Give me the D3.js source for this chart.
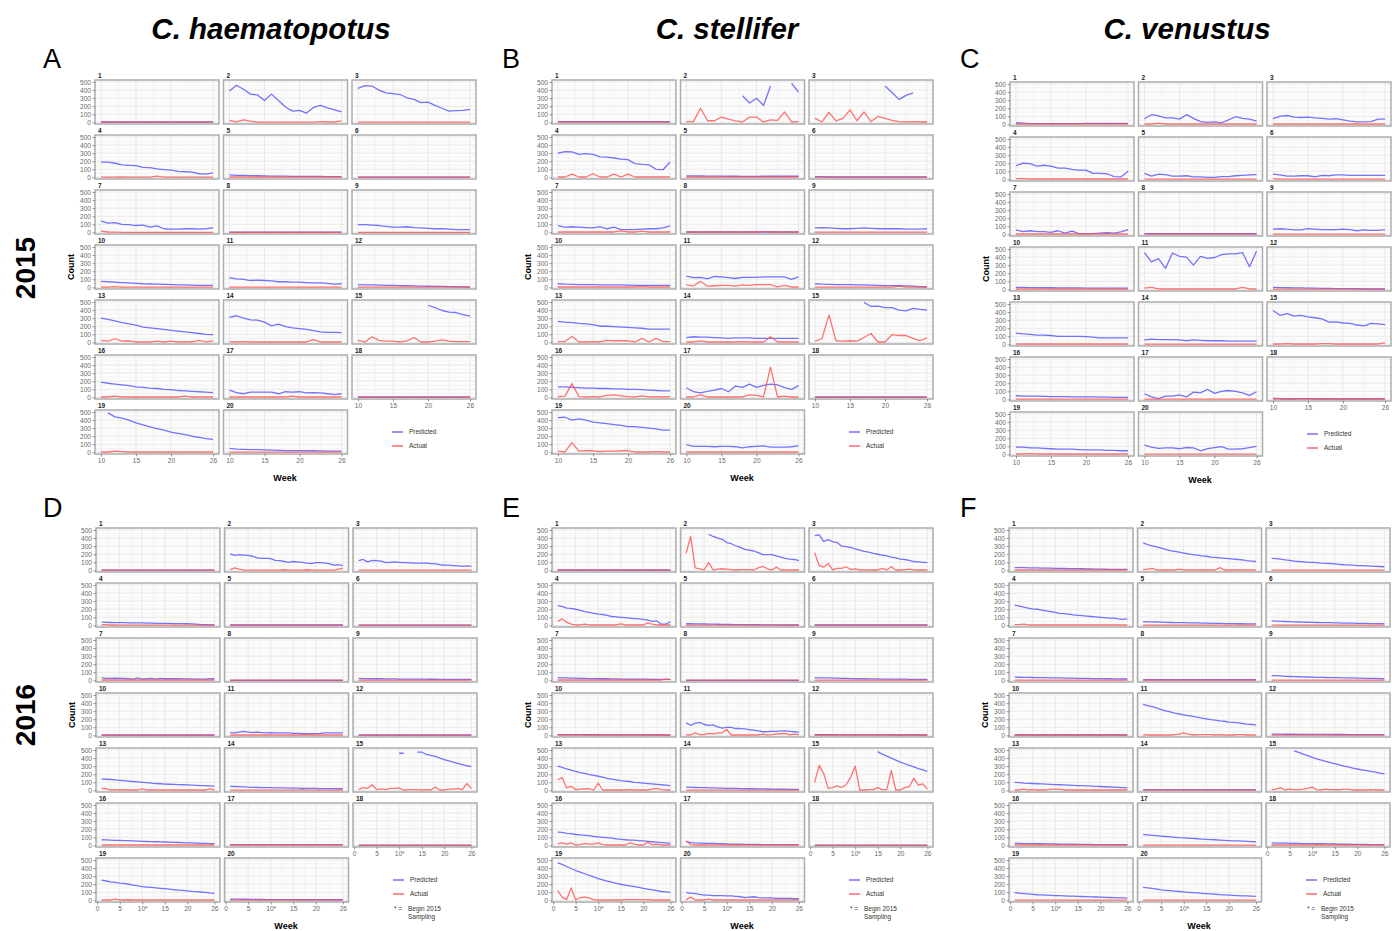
<!DOCTYPE html>
<html>
<head>
<meta charset="utf-8">
<script src="https://cdn.jsdelivr.net/npm/d3@7"></script>
<style>
  body { margin: 0; background: #fff; }
  text { font-family: "Liberation Sans", Arial, sans-serif; }
</style>
</head>
<body>
<div id="chart"></div>
<script>
// ---- labels ----
var speciesNames = ["C. haematopotus", "C. stellifer", "C. venustus"];
var yearLabels = ["2015", "2016"];
var panelLetters = ["A", "B", "C", "D", "E", "F"];
var seriesNames = ["Predicted", "Actual"];
var yTickValues = [0, 100, 200, 300, 400, 500];
var xTicks2015 = [10, 15, 20, 26];
var xTickLabels2015 = ["10", "15", "20", "26"];
var xTicks2016 = [0, 5, 10, 15, 20, 26];
var xTickLabels2016 = ["0", "5", "10*", "15", "20", "26"];

var weeks2015 = [10,11,12,13,14,15,16,17,18,19,20,21,22,23,24,25,26];
var weeks2016 = [1,2,3,4,5,6,7,8,9,10,11,12,13,14,15,16,17,18,19,20,21,22,23,24,25,26];

// ---- 2015, C. haematopotus (A) ----
var predA = [
  [5,5,5,5,5,5,5,5,5,5,5,5,5,5,5,5,5],
  [390,460,410,350,340,270,350,270,190,140,150,115,185,210,180,155,130],
  [420,455,450,400,365,355,345,305,285,245,250,210,175,140,145,150,160],
  [190,190,175,155,150,145,125,120,105,95,90,75,70,65,45,40,55],
  [30,25,25,22,20,18,15,15,15,12,12,12,12,12,10,10,10],
  [4,4,4,4,4,4,4,4,4,4,4,4,4,4,4,4,4],
  [140,115,120,100,95,85,90,65,80,45,40,40,45,45,40,45,55],
  [2,2,2,2,2,2,2,2,2,2,2,2,2,2,2,2,2],
  [95,95,90,85,75,65,65,70,60,55,50,45,45,40,35,35,35],
  [75,70,65,60,55,50,45,42,40,38,35,32,30,28,26,25,25],
  [120,105,100,85,90,85,80,70,70,65,65,60,55,55,50,40,45],
  [35,32,30,28,26,25,22,20,18,16,14,12,12,10,8,6,5],
  [300,285,265,245,230,215,190,180,170,160,150,140,130,120,110,100,95],
  [310,330,300,280,275,250,205,225,195,180,170,160,145,130,125,125,120],
  [null,null,null,null,null,null,null,null,null,null,460,430,395,375,370,345,325],
  [190,175,165,155,145,130,125,115,110,100,95,85,80,75,70,65,60],
  [90,60,45,65,65,65,65,45,70,65,70,55,60,55,45,35,45],
  [5,5,5,5,5,5,5,5,5,5,5,5,5,5,5,5,5],
  [null,490,440,425,400,365,340,315,295,275,250,235,220,200,185,170,160],
  [50,40,38,35,33,30,28,25,22,22,22,20,20,18,15,15,15]
];
var actA = [
  [2,2,2,2,2,2,2,2,2,2,2,2,2,2,2,2,2],
  [25,5,30,15,5,2,2,2,2,2,2,2,2,10,5,5,20],
  [2,2,2,2,2,2,2,2,2,2,2,2,2,2,2,2,2],
  [2,2,2,5,2,2,2,2,15,2,2,2,2,2,2,2,2],
  [5,5,5,5,5,5,5,5,5,5,5,5,5,5,5,5,5],
  [2,2,2,2,2,2,2,2,2,2,2,2,2,2,2,2,2],
  [15,5,2,0,0,0,0,0,0,0,0,0,0,0,0,0,0],
  [0,0,0,0,0,0,0,0,0,0,0,0,0,0,0,0,0],
  [1,1,1,1,1,1,1,1,1,1,1,1,1,1,1,1,1],
  [3,3,10,3,3,3,3,3,3,3,3,3,3,3,3,3,3],
  [3,3,3,3,3,3,3,3,3,3,3,3,3,3,3,3,3],
  [3,3,3,3,3,3,3,3,3,3,3,3,3,3,3,3,3],
  [25,15,45,15,20,5,5,5,15,5,15,5,10,5,25,5,20],
  [10,5,10,5,5,5,5,5,5,5,5,5,35,5,5,5,5],
  [25,5,70,25,15,15,5,20,60,5,5,15,30,15,10,10,10],
  [5,5,15,5,5,5,5,5,5,5,5,5,15,5,5,5,5],
  [5,5,5,5,5,5,5,5,5,15,5,5,5,5,5,5,5],
  [3,3,3,3,3,3,3,3,3,3,3,3,3,3,3,3,3],
  [5,5,15,10,5,5,5,5,5,5,5,5,5,5,5,5,5],
  [3,3,3,3,3,3,3,3,3,3,3,3,3,3,3,3,3]
];

// ---- 2015, C. stellifer (B) ----
var predB = [
  [8,8,8,8,8,8,8,8,8,8,8,8,8,8,8,8,8],
  [null,null,null,null,null,null,null,null,330,240,300,210,450,null,null,485,375],
  [null,null,null,null,null,null,null,null,null,null,450,370,285,335,365,null,null],
  [300,320,315,285,295,285,255,250,240,225,220,170,160,155,100,95,190],
  [18,17,17,16,15,15,14,14,13,13,13,14,14,14,14,14,14],
  [10,8,5,5,5,5,5,5,5,5,5,5,5,5,5,5,5],
  [85,65,70,65,60,55,70,45,65,35,35,35,40,45,45,55,80],
  [5,5,5,5,5,5,5,5,5,5,5,5,5,5,5,5,5],
  [55,60,55,50,45,45,50,55,50,45,45,45,45,40,40,40,45],
  [45,40,38,35,35,35,32,30,30,30,28,25,25,25,25,25,25],
  [140,120,125,105,135,130,120,110,125,125,125,130,130,130,130,100,130],
  [45,40,38,35,35,35,32,30,28,25,22,22,20,18,15,10,5],
  [260,250,245,235,230,220,200,200,195,190,185,180,175,165,165,165,165],
  [60,70,65,65,60,55,50,55,55,55,50,50,50,50,50,50,50],
  [null,null,null,null,null,null,null,495,445,450,430,430,400,390,420,410,400],
  [130,130,125,120,115,115,110,110,105,105,100,100,95,90,85,80,80],
  [120,70,55,75,90,110,70,140,125,165,125,150,165,155,120,100,145],
  [5,5,5,5,5,5,5,5,5,5,5,5,5,5,5,5,5],
  [430,435,400,415,400,375,365,355,345,335,320,320,310,300,290,275,275],
  [95,75,75,75,70,75,75,70,55,70,75,80,65,65,65,70,80]
];
var actB = [
  [3,3,3,3,3,3,3,3,3,3,3,3,3,3,3,3,3],
  [10,10,175,20,20,65,40,20,5,65,65,5,30,25,130,5,10],
  [50,5,125,20,50,155,20,130,10,75,50,25,10,5,10,5,5],
  [5,5,40,5,5,45,5,5,40,5,40,5,5,5,5,5,5],
  [5,5,5,5,5,5,5,5,5,5,5,5,5,5,5,5,5],
  [3,3,3,3,3,3,3,3,3,3,3,3,3,3,3,3,3],
  [5,5,5,5,5,5,5,5,5,20,5,5,15,5,5,5,5],
  [5,5,5,5,5,5,5,5,5,5,5,10,5,5,5,5,5],
  [3,3,3,3,3,3,3,3,3,3,3,3,3,3,3,3,3],
  [5,5,5,5,5,5,5,5,5,5,5,5,10,5,5,5,5],
  [30,20,75,15,20,25,25,15,30,25,35,35,35,5,25,5,5],
  [3,3,3,3,3,3,3,3,3,3,3,3,15,3,3,3,3],
  [10,10,75,5,5,10,5,25,20,20,20,5,50,5,50,10,10],
  [5,5,20,5,5,5,5,5,10,5,5,5,70,5,5,5,5],
  [15,45,340,20,15,20,15,60,110,5,5,95,85,85,50,20,55],
  [10,15,170,10,5,10,5,25,30,20,10,5,20,5,10,5,10],
  [5,5,30,5,5,5,5,5,5,30,25,5,375,5,15,5,5],
  [3,3,3,3,3,3,3,3,3,3,3,3,3,3,3,3,3],
  [15,5,120,15,20,20,10,15,15,20,20,5,5,5,10,5,5],
  [5,5,5,5,5,5,5,5,5,5,5,5,5,5,5,5,5]
];

// ---- 2015, C. venustus (C) ----
var predC = [
  [20,15,10,10,10,10,10,10,10,10,12,12,12,12,12,12,12],
  [70,120,105,80,80,65,120,75,35,25,30,20,55,95,75,65,40],
  [70,100,110,90,85,90,80,75,65,70,55,40,30,30,35,65,65],
  [170,200,195,165,175,165,140,140,125,115,115,75,75,70,35,30,100],
  [75,40,65,60,40,40,45,30,30,25,25,35,35,45,50,55,60],
  [65,55,40,40,45,45,30,50,45,55,55,50,50,50,50,50,50],
  [55,35,45,35,35,25,45,15,40,10,10,10,15,20,15,30,60],
  [8,8,8,8,8,8,8,8,8,8,8,8,8,8,8,8,8],
  [65,70,65,55,55,70,65,60,60,60,65,60,45,55,50,50,60],
  [25,25,22,22,20,20,18,18,18,18,15,15,15,15,15,15,15],
  [455,340,380,260,450,410,400,300,410,385,395,430,440,440,455,280,475],
  [25,22,20,18,18,15,15,12,12,10,10,10,8,5,5,5,5],
  [140,130,125,115,115,110,100,100,100,100,95,90,80,80,80,80,80],
  [55,65,60,60,60,55,45,55,50,45,45,45,40,40,40,40,40],
  [420,360,380,350,360,340,330,315,275,280,265,260,240,230,260,255,245],
  [45,40,40,40,38,35,35,35,32,30,30,30,28,28,25,25,25],
  [70,30,10,40,40,55,30,90,80,125,75,100,110,100,80,50,95],
  [15,10,5,5,10,10,5,5,5,5,5,5,5,5,5,5,10],
  [90,90,80,80,75,70,65,65,65,60,55,55,55,50,50,45,45],
  [115,90,75,80,80,70,85,80,45,70,85,95,65,65,70,85,100]
];
var actC = [
  [5,5,5,5,5,5,5,5,5,5,5,5,5,5,5,5,5],
  [5,5,15,5,5,5,5,5,5,5,5,5,5,5,5,5,5],
  [5,5,5,5,5,5,5,5,5,5,5,5,5,5,5,5,5],
  [10,10,5,5,5,5,5,5,5,5,5,5,5,5,5,5,5],
  [3,3,3,3,3,3,3,3,3,3,3,3,3,3,3,3,3],
  [10,3,3,3,3,3,3,3,3,3,3,3,3,3,3,3,3],
  [5,5,5,5,5,5,5,5,5,5,5,5,5,5,5,5,5],
  [3,3,3,3,3,3,3,3,3,3,3,3,3,3,3,3,3],
  [3,3,3,3,3,3,3,3,3,3,3,3,3,3,3,3,3],
  [5,5,5,5,5,5,5,5,5,5,5,5,5,5,5,5,5],
  [15,25,5,5,5,5,5,5,5,5,5,5,5,5,25,5,5],
  [3,3,3,3,3,3,3,3,3,3,3,3,3,3,3,3,3],
  [5,5,5,5,5,5,5,5,5,5,5,5,5,5,5,5,5],
  [3,3,3,3,3,3,3,3,3,3,3,3,3,3,3,3,3],
  [5,5,10,5,5,5,5,10,10,5,5,5,5,5,5,5,20],
  [3,3,3,3,3,3,3,3,3,3,3,3,3,3,3,3,3],
  [3,3,3,3,3,3,3,3,3,3,3,3,3,3,3,3,3],
  [5,5,5,5,5,5,5,5,5,5,5,5,5,5,5,5,5],
  [5,5,10,5,5,5,5,5,5,5,5,5,5,5,5,5,5],
  [3,3,3,3,3,3,3,3,3,3,3,3,3,3,3,3,3]
];

// ---- 2016, C. haematopotus (D) ----
var predD = [
  [3,3,3,3,3,3,3,3,3,3,3,3,3,3,3,3,3,3,3,3,3,3,3,3,3,3],
  [205,185,195,190,185,175,155,150,150,145,125,120,110,100,110,105,100,90,85,95,95,90,85,65,70,60],
  [120,135,105,125,120,115,95,100,105,100,95,95,90,90,90,90,85,80,70,65,65,60,55,50,55,50],
  [40,38,36,35,34,33,32,30,30,30,28,27,26,25,24,24,23,22,21,20,18,15,8,10,5,5],
  [5,5,5,5,5,5,5,5,5,5,5,5,5,5,5,5,5,5,5,5,5,5,5,5,5,5],
  [2,2,2,2,2,2,2,2,2,2,2,2,2,2,2,2,2,2,2,2,2,2,2,2,2,2],
  [35,25,25,28,25,25,20,15,30,15,20,25,15,25,20,20,20,20,18,18,18,15,15,15,20,20],
  [1,1,1,1,1,1,1,1,1,1,1,1,1,1,1,1,1,1,1,1,1,1,1,1,1,1],
  [25,22,22,20,20,20,18,18,18,16,16,15,15,15,15,15,14,14,13,13,12,12,12,12,12,12],
  [5,5,5,5,5,5,5,5,5,5,5,5,5,5,5,5,5,5,5,5,5,5,5,5,5,5],
  [35,30,40,50,40,35,40,35,30,35,30,30,30,30,25,25,20,20,20,22,25,30,30,30,30,30],
  [5,5,5,5,5,5,5,5,5,5,5,5,5,5,5,5,5,5,5,5,5,5,5,5,5,5],
  [140,138,135,130,125,120,115,110,105,100,95,90,85,82,78,76,75,72,70,68,65,62,60,58,55,52],
  [50,48,46,44,40,38,36,35,34,33,32,31,30,29,28,27,26,25,25,24,23,22,22,21,20,20],
  [null,null,null,null,null,null,null,null,null,460,460,null,null,475,475,445,435,420,400,380,365,350,335,320,305,295],
  [70,68,65,63,62,60,58,55,53,50,48,47,45,43,42,40,38,36,34,32,30,28,26,24,22,20],
  [10,10,10,10,10,10,10,10,10,10,10,10,10,10,10,10,10,10,10,10,10,10,10,10,10,10],
  [1,1,1,1,1,1,1,1,1,1,1,1,1,1,1,1,1,1,1,1,1,1,1,1,1,1],
  [250,240,230,222,215,210,200,190,180,170,165,160,155,150,145,140,132,128,124,118,112,108,104,98,92,88],
  [15,15,15,14,13,12,12,11,10,10,10,10,9,9,9,8,8,8,8,8,8,8,8,8,8,8]
];
var actD = [
  [3,3,3,3,3,3,3,3,3,3,3,3,3,3,3,3,3,3,3,3,3,3,3,3,3,3],
  [10,30,15,5,3,3,3,3,3,3,3,3,8,3,3,3,3,8,3,3,3,3,3,3,15,25],
  [3,3,3,3,3,3,3,3,3,3,3,3,3,3,3,3,3,3,3,3,3,3,3,3,3,3],
  [10,8,5,5,3,3,3,3,3,3,3,3,3,3,3,3,3,3,3,3,3,3,3,3,3,10],
  [3,3,3,3,3,3,3,3,3,3,3,3,3,3,3,3,3,3,3,3,3,3,3,3,3,3],
  [3,3,3,3,3,3,3,3,3,3,3,3,3,3,3,3,3,3,3,3,3,3,3,3,3,3],
  [5,5,5,5,5,5,5,5,5,5,5,5,5,5,5,5,5,5,5,5,5,5,5,5,5,5],
  [3,3,3,3,3,3,3,3,3,3,3,3,3,3,3,3,3,3,3,3,3,3,3,3,3,3],
  [3,3,3,3,3,3,3,3,3,3,3,3,3,3,3,3,3,3,3,3,3,3,3,3,3,3],
  [3,3,3,3,3,3,3,3,3,3,3,3,3,3,3,3,3,3,3,3,3,3,3,3,3,3],
  [5,5,5,5,5,5,5,5,5,5,5,5,5,5,5,5,5,5,5,5,5,5,5,5,5,5],
  [3,3,3,3,3,3,3,3,3,3,3,3,3,3,3,3,3,3,3,3,3,3,3,3,3,3],
  [25,20,5,10,5,10,5,5,5,20,5,5,5,5,5,5,5,5,5,5,5,5,5,5,20,5],
  [3,3,3,3,3,3,3,3,3,3,3,3,3,3,3,3,10,3,3,3,3,3,3,3,3,3],
  [10,35,25,70,10,20,10,25,25,30,5,10,10,10,5,10,5,40,5,5,15,15,25,10,85,25],
  [5,5,5,5,5,5,5,5,5,5,5,5,5,5,5,5,5,5,5,5,5,5,5,5,5,5],
  [5,5,5,5,5,5,5,5,5,5,5,5,5,5,5,5,5,5,5,5,5,5,5,5,5,5],
  [3,3,3,3,3,3,3,3,3,3,3,3,3,3,3,3,3,3,3,3,3,3,3,3,3,3],
  [5,5,5,15,5,5,8,5,5,5,5,5,5,5,5,5,5,5,5,5,5,5,5,5,5,5],
  [3,3,3,3,3,3,3,3,3,3,3,3,3,3,3,3,3,3,3,3,3,3,3,3,3,3]
];

// ---- 2016, C. stellifer (E) ----
var predE = [
  [5,5,5,5,5,5,5,5,5,5,5,5,5,5,5,5,5,5,5,5,5,5,5,5,5,5],
  [null,null,null,null,null,445,420,400,385,345,330,305,285,260,250,240,220,195,195,195,180,165,150,140,135,120],
  [430,440,360,380,355,345,300,295,285,265,250,235,225,210,200,190,180,165,155,140,135,125,110,105,100,95],
  [245,235,215,210,200,185,170,160,150,140,135,125,110,105,100,95,90,85,80,75,65,50,55,15,15,45],
  [20,20,19,18,17,16,15,14,13,12,11,10,10,9,9,8,8,7,7,6,6,5,5,5,5,5],
  [5,5,5,5,5,5,5,5,5,5,5,5,5,5,5,5,5,5,5,5,5,5,5,5,5,5],
  [35,32,30,28,28,25,25,22,22,20,20,20,18,18,15,15,15,15,15,15,15,12,12,12,12,12],
  [1,1,1,1,1,1,1,1,1,1,1,1,1,1,1,1,1,1,1,1,1,1,1,1,1,1],
  [35,32,30,30,28,28,25,25,22,22,20,20,18,18,18,15,15,15,15,15,15,12,12,12,12,12],
  [10,10,10,9,9,9,8,8,8,8,7,7,7,7,6,6,6,6,6,5,5,5,5,5,5,5],
  [155,125,150,160,135,125,130,105,90,100,100,85,85,80,70,65,55,45,45,50,50,55,55,50,45,40],
  [8,8,8,8,8,8,7,7,7,7,7,6,6,6,6,6,6,5,5,5,5,5,5,5,5,5],
  [300,285,265,250,235,220,210,195,185,175,165,150,140,130,120,115,110,100,95,90,85,80,75,70,65,60],
  [40,38,36,34,33,32,30,28,27,26,25,24,23,22,20,20,18,18,17,16,15,14,14,13,12,12],
  [null,null,null,null,null,null,null,null,null,null,null,null,null,null,480,450,425,400,375,350,330,310,290,270,255,235],
  [165,160,150,145,135,130,125,120,110,105,100,95,90,80,75,70,65,65,60,55,50,45,40,35,30,25],
  [50,35,30,28,26,25,24,22,20,18,16,15,14,13,12,12,11,10,10,10,10,10,10,10,10,10],
  [1,1,1,1,1,1,1,1,1,1,1,1,1,1,1,1,1,1,1,1,1,1,1,1,1,1],
  [465,445,420,395,370,350,330,310,290,270,255,240,225,210,200,190,180,170,160,150,140,130,120,110,105,100],
  [95,90,85,75,65,65,60,60,60,55,55,50,45,35,40,45,35,30,30,30,25,25,25,25,20,20]
];
var actE = [
  [3,3,3,3,3,3,3,3,3,3,3,3,3,3,3,3,3,3,3,3,3,3,3,3,3,3],
  [210,420,30,20,5,95,5,15,20,15,10,5,10,10,10,5,30,50,20,5,40,5,5,5,5,5],
  [220,60,40,85,5,25,25,45,10,20,5,5,5,5,5,25,5,45,5,5,10,15,5,5,5,5],
  [50,80,40,15,5,5,15,5,5,5,5,5,5,5,20,5,5,5,5,5,30,15,5,5,5,5],
  [3,3,3,3,3,3,3,3,3,3,3,3,3,3,3,3,3,3,3,3,3,3,3,3,3,3],
  [3,3,3,3,3,3,3,3,3,3,3,3,3,3,3,3,3,3,3,3,3,3,3,3,3,3],
  [5,5,5,5,5,5,5,5,5,5,5,5,5,5,5,5,5,5,5,5,5,5,5,5,15,10],
  [3,3,3,3,3,3,3,3,3,3,3,3,3,3,3,3,3,3,3,3,3,3,3,3,3,3],
  [3,3,3,3,3,3,3,3,3,3,3,3,3,3,3,3,3,3,3,3,3,3,3,3,3,3],
  [5,5,5,5,5,5,5,5,5,5,5,5,5,5,5,5,5,5,5,5,5,5,5,5,5,5],
  [10,5,30,10,10,25,20,30,30,75,5,5,5,5,5,5,5,15,5,10,20,20,25,5,15,10],
  [5,5,5,5,5,5,5,5,5,5,5,5,5,5,5,5,5,5,5,5,5,5,5,5,5,5],
  [130,160,30,50,10,15,20,20,5,90,5,5,5,5,5,5,10,5,5,5,5,15,25,10,5,5],
  [3,3,3,3,3,3,3,3,3,3,3,3,3,3,3,3,3,3,3,3,3,3,3,3,3,3],
  [100,310,210,25,35,55,35,70,165,300,5,5,10,10,35,10,10,245,5,5,35,45,150,65,80,15],
  [20,30,15,30,5,10,25,15,15,30,10,5,5,5,5,5,30,15,5,5,40,10,15,5,5,5],
  [55,10,5,5,5,5,5,5,5,5,5,5,5,5,5,5,5,5,5,5,5,5,5,5,5,5],
  [3,3,3,3,3,3,3,3,3,3,3,3,3,3,3,3,3,3,3,3,3,3,3,3,3,3],
  [120,40,10,155,5,35,40,30,10,5,5,5,5,5,5,10,10,10,10,10,10,5,5,5,5,5],
  [10,40,5,5,5,15,5,5,5,5,5,5,5,5,5,5,5,5,5,5,5,5,5,5,5,5]
];

// ---- 2016, C. venustus (F) ----
var predF = [
  [35,34,33,32,30,30,28,28,27,26,25,24,23,22,21,20,18,17,16,15,14,13,12,12,12,12],
  [340,320,305,290,275,260,245,235,225,215,205,195,190,180,175,165,160,155,150,145,140,135,130,120,115,110],
  [150,145,140,130,125,115,110,105,100,98,95,90,88,85,80,75,70,68,65,60,58,55,52,50,48,45],
  [250,240,225,215,205,200,190,180,170,160,150,145,140,130,125,120,115,110,105,100,95,90,90,80,75,80],
  [45,44,43,42,40,38,36,35,34,33,32,30,30,28,27,26,25,24,23,22,21,20,20,19,18,18],
  [55,53,50,48,46,44,42,40,39,38,36,35,34,33,32,30,29,28,27,26,25,24,23,22,21,20],
  [40,39,38,37,36,35,34,33,32,31,30,29,28,27,26,25,24,23,22,21,20,20,19,18,17,17],
  [8,8,8,8,8,8,8,8,8,8,8,8,8,8,8,8,8,8,8,8,8,8,8,8,8,8],
  [60,58,55,50,48,46,45,44,42,40,38,37,36,35,34,33,32,31,30,28,27,26,25,24,23,22],
  [5,5,5,5,5,5,5,5,5,5,5,5,5,5,5,5,5,5,5,5,5,5,5,5,5,5],
  [385,370,355,340,320,305,290,275,265,255,245,235,225,215,205,195,190,180,175,165,160,155,150,140,135,130],
  [15,15,15,14,14,14,13,13,13,12,12,12,12,11,11,11,11,10,10,10,10,10,10,10,10,10],
  [100,95,90,88,85,82,80,78,75,72,70,68,65,62,60,58,55,52,50,48,45,42,40,38,35,32],
  [10,10,10,10,10,10,10,10,10,10,10,10,10,10,10,10,10,10,10,10,10,10,10,10,10,10],
  [null,null,null,null,null,490,470,450,430,410,390,375,360,345,330,315,300,290,275,265,255,245,235,225,215,205],
  [25,24,23,22,21,20,20,19,18,17,16,15,15,14,13,12,12,11,10,10,9,9,8,8,8,8],
  [135,130,125,120,115,110,105,100,95,92,90,86,82,78,75,72,70,66,63,60,57,55,52,50,47,45],
  [30,29,28,27,26,25,24,23,22,21,20,20,19,18,17,16,15,14,13,12,12,11,10,10,10,10],
  [95,90,85,80,75,70,68,65,62,60,58,56,54,52,50,48,46,44,42,40,38,36,34,32,30,28],
  [160,155,150,140,130,125,120,115,110,105,100,96,92,88,84,80,76,72,68,65,62,60,57,55,53,50]
];
var actF = [
  [5,5,5,5,5,5,5,5,5,5,5,5,5,5,5,5,5,5,5,5,5,5,5,5,5,5],
  [10,15,25,5,5,5,5,5,15,5,5,5,5,5,5,5,5,35,5,5,5,5,5,5,5,5],
  [3,3,3,3,3,3,3,3,3,3,3,3,3,3,3,3,3,3,3,3,3,3,3,3,3,3],
  [10,10,15,5,5,5,5,5,5,5,5,5,5,5,5,5,5,5,5,5,5,5,5,5,5,5],
  [3,3,3,3,3,3,3,3,3,3,3,3,3,3,3,3,3,3,3,3,3,3,3,3,3,3],
  [3,3,3,3,3,3,3,3,3,3,3,3,3,3,3,3,3,3,3,3,3,3,3,3,3,3],
  [3,3,3,3,3,3,3,3,3,3,3,3,3,3,3,3,3,3,3,3,3,3,3,3,3,3],
  [3,3,3,3,3,3,3,3,3,3,3,3,3,3,3,3,3,3,3,3,3,3,3,3,3,3],
  [3,3,3,3,3,3,3,3,3,3,3,3,3,3,3,3,3,3,3,3,3,3,3,3,3,3],
  [5,5,5,5,5,5,5,5,5,5,5,5,5,5,5,5,5,5,5,5,5,5,5,5,5,5],
  [10,5,5,5,5,5,5,10,15,30,15,5,10,10,10,10,5,10,5,5,5,10,10,5,5,5],
  [3,3,3,3,3,3,3,3,3,3,3,3,3,3,3,3,3,3,3,3,3,3,3,3,3,3],
  [5,5,15,5,10,5,5,5,15,15,15,5,5,5,5,5,5,5,5,5,5,5,5,5,5,5],
  [3,3,3,3,3,3,3,3,3,3,3,3,3,3,3,3,3,3,3,3,3,3,3,3,3,3],
  [5,15,35,5,15,10,10,15,25,40,10,5,15,10,10,5,15,15,5,5,5,5,10,5,5,5],
  [5,5,5,5,5,5,5,5,5,5,5,5,5,5,5,5,5,5,5,5,5,5,5,5,5,5],
  [3,3,3,3,3,3,3,3,3,3,3,3,3,3,3,3,3,3,3,3,3,3,3,3,3,3],
  [5,5,5,5,5,5,5,5,5,5,5,5,5,5,5,5,5,5,5,5,5,5,5,5,5,5],
  [3,3,3,3,3,3,3,3,3,3,3,3,3,3,3,3,3,3,3,3,3,3,3,3,3,3],
  [3,3,3,3,3,3,3,3,3,3,3,3,3,3,3,3,3,3,3,3,3,3,3,3,3,3]
];

// ---- layout ----
var W = 124, H = 44;        // one facet
var PX = 128.5, PY = 55;    // facet pitch
var predColor = "#5a5aff", actColor = "#ff5050";

var svg = d3.select("#chart").append("svg")
  .attr("width", 1392)
  .attr("height", 931);

// block = one species x one year
var blocks = [
  {ox: 95,   oy: 80,  pred: predA, act: actA, yr: 0},
  {ox: 552,  oy: 80,  pred: predB, act: actB, yr: 0},
  {ox: 1010, oy: 82,  pred: predC, act: actC, yr: 0},
  {ox: 96,   oy: 528, pred: predD, act: actD, yr: 1},
  {ox: 552,  oy: 528, pred: predE, act: actE, yr: 1},
  {ox: 1009, oy: 528, pred: predF, act: actF, yr: 1}
];

var y = d3.scaleLinear().domain([-20, 525]).range([H, 0]);

function drawBlock(b) {
  var weeks = b.yr == 0 ? weeks2015 : weeks2016;
  var ticks = b.yr == 0 ? xTicks2015 : xTicks2016;
  var tickLabels = b.yr == 0 ? xTickLabels2015 : xTickLabels2016;
  var x = d3.scaleLinear()
    .domain(b.yr == 0 ? [9.15, 26.85] : [-0.25, 27.25])
    .range([0, W]);
  var minorX = ticks.slice(1).map(function(t, i) { return (t + ticks[i]) / 2; });
  var minorY = yTickValues.slice(1).map(function(t) { return t - 50; });

  var g = svg.append("g").attr("transform", "translate(" + b.ox + "," + b.oy + ")");

  var line = d3.line()
    .defined(function(d) { return d[1] != null; })
    .x(function(d) { return x(d[0]); })
    .y(function(d) { return y(d[1]); });

  for (var i = 0; i < 20; i++) {
    var col = i % 3, row = Math.floor(i / 3);
    var f = g.append("g").attr("transform", "translate(" + (col * PX) + "," + (row * PY) + ")");

    f.append("rect").attr("width", W).attr("height", H).attr("fill", "#fcfcfc");

    f.selectAll(".gminy").data(minorY).enter().append("line")
      .attr("x1", 0).attr("x2", W)
      .attr("y1", function(d) { return y(d); }).attr("y2", function(d) { return y(d); })
      .attr("stroke", "#efefef").attr("stroke-width", 0.5);
    f.selectAll(".gminx").data(minorX).enter().append("line")
      .attr("y1", 0).attr("y2", H)
      .attr("x1", function(d) { return x(d); }).attr("x2", function(d) { return x(d); })
      .attr("stroke", "#efefef").attr("stroke-width", 0.5);
    f.selectAll(".gmajy").data(yTickValues).enter().append("line")
      .attr("x1", 0).attr("x2", W)
      .attr("y1", function(d) { return y(d); }).attr("y2", function(d) { return y(d); })
      .attr("stroke", "#e2e2e2").attr("stroke-width", 0.7);
    f.selectAll(".gmajx").data(ticks).enter().append("line")
      .attr("y1", 0).attr("y2", H)
      .attr("x1", function(d) { return x(d); }).attr("x2", function(d) { return x(d); })
      .attr("stroke", "#e2e2e2").attr("stroke-width", 0.7);

    var pd = weeks.map(function(w, j) { return [w, b.pred[i][j]]; });
    var ad = weeks.map(function(w, j) { return [w, b.act[i][j]]; });

    f.append("path").attr("d", line(pd))
      .attr("fill", "none").attr("stroke", predColor).attr("stroke-width", 1.3)
      .attr("stroke-opacity", 0.85).attr("stroke-linejoin", "round");
    f.append("path").attr("d", line(ad))
      .attr("fill", "none").attr("stroke", actColor).attr("stroke-width", 1.3)
      .attr("stroke-opacity", 0.8).attr("stroke-linejoin", "round");

    f.append("rect").attr("width", W).attr("height", H)
      .attr("fill", "none").attr("stroke", "#adadad").attr("stroke-width", 1.5);

    f.append("text").attr("x", 3).attr("y", -2.5)
      .attr("font-size", 6.5).attr("font-weight", "bold").attr("fill", "#222")
      .text(i + 1);

    if (col == 0) {
      var ya = f.append("g").call(d3.axisLeft(y).tickValues(yTickValues).tickSize(2.5).tickPadding(1.5));
      styleAxis(ya);
    }
    if (row == 6 || (col == 2 && row == 5)) {
      var xa = f.append("g").attr("transform", "translate(0," + H + ")")
        .call(d3.axisBottom(x).tickValues(ticks).tickSize(2.5).tickPadding(1.5)
          .tickFormat(function(d, j) { return tickLabels[j]; }));
      styleAxis(xa);
    }
  }

  // axis titles
  g.append("text").attr("transform", "translate(-21,187) rotate(-90)")
    .attr("text-anchor", "middle").attr("font-size", 9).attr("font-weight", "bold")
    .text("Count");
  g.append("text").attr("x", 190).attr("y", 401)
    .attr("text-anchor", "middle").attr("font-size", 9).attr("font-weight", "bold")
    .text("Week");

  // legend
  var leg = g.append("g").attr("transform", "translate(297,352)");
  [predColor, actColor].forEach(function(c, j) {
    leg.append("line").attr("x1", 0).attr("x2", 11).attr("y1", j * 14).attr("y2", j * 14)
      .attr("stroke", c).attr("stroke-width", 1.3);
    leg.append("text").attr("x", 17).attr("y", j * 14 + 2.2)
      .attr("font-size", 6.5).attr("fill", "#333").text(seriesNames[j]);
  });
  if (b.yr == 1) {
    leg.append("text").attr("x", 1).attr("y", 30.5).attr("font-size", 6.5).attr("fill", "#333").text("* =");
    leg.append("text").attr("x", 15).attr("y", 30.5).attr("font-size", 6.5).attr("fill", "#333").text("Begin 2015");
    leg.append("text").attr("x", 15).attr("y", 38.5).attr("font-size", 6.5).attr("fill", "#333").text("Sampling");
  }
}

function styleAxis(a) {
  a.select(".domain").remove();
  a.selectAll(".tick line").attr("stroke", "#555").attr("stroke-width", 0.6);
  a.selectAll(".tick text").attr("fill", "#6a6a6a").attr("font-size", 6.6)
    .attr("font-family", "Liberation Sans, Arial, sans-serif");
}

blocks.forEach(drawBlock);

// headers
var titleX = [271, 727, 1187];
speciesNames.forEach(function(s, j) {
  svg.append("text").attr("x", titleX[j]).attr("y", 39)
    .attr("text-anchor", "middle").attr("font-size", 29.5)
    .attr("font-weight", "bold").attr("font-style", "italic")
    .text(s);
});
var letterPos = [[43, 68], [502, 68], [960, 68], [43, 517], [502, 517], [960, 517]];
panelLetters.forEach(function(l, j) {
  svg.append("text").attr("x", letterPos[j][0]).attr("y", letterPos[j][1])
    .attr("font-size", 27).text(l);
});
var yearY = [268, 715];
yearLabels.forEach(function(t, j) {
  svg.append("text").attr("transform", "translate(35," + yearY[j] + ") rotate(-90)")
    .attr("text-anchor", "middle").attr("font-size", 28).attr("font-weight", "bold")
    .text(t);
});
</script>
</body>
</html>
